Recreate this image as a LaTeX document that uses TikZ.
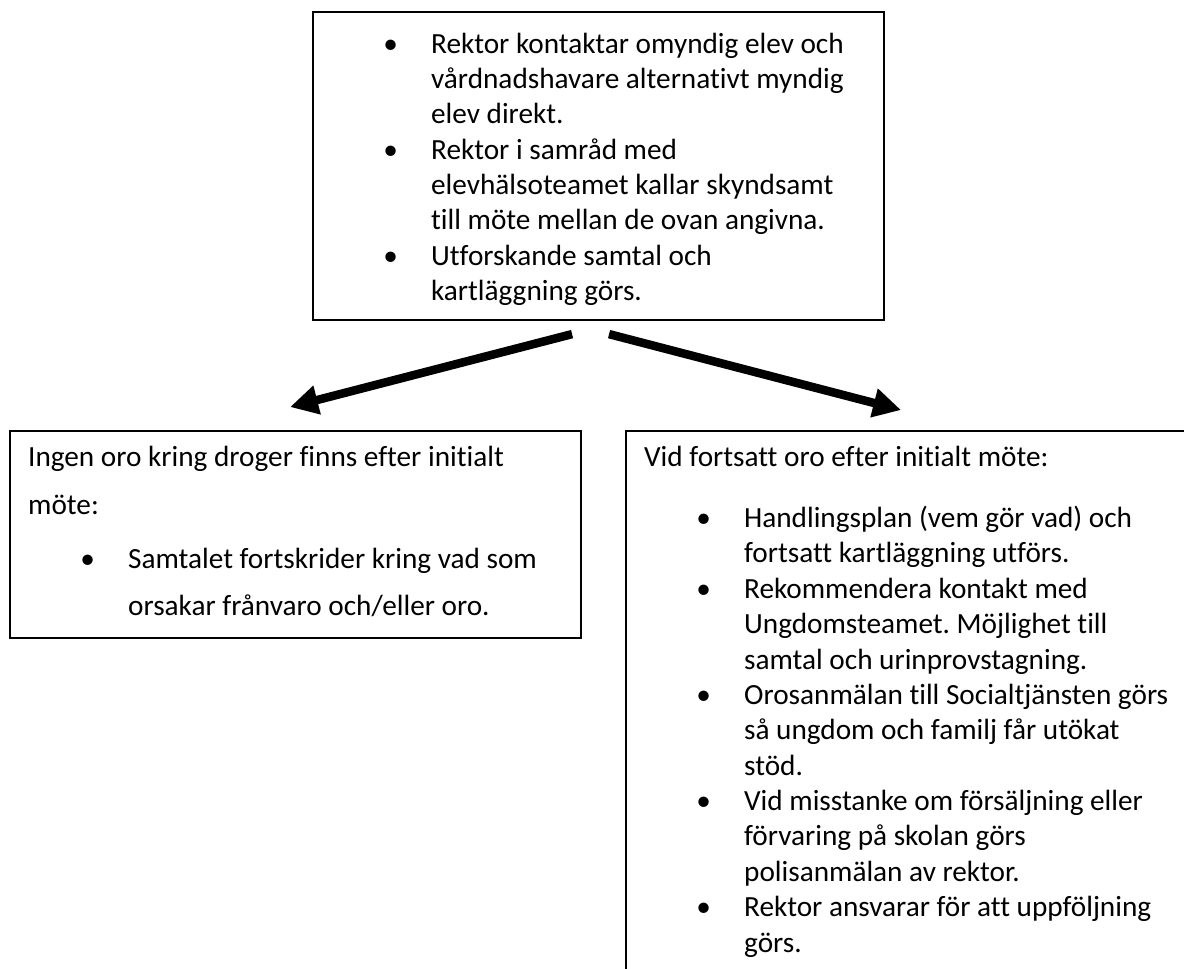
\documentclass[tikz,border=0pt]{standalone}
\usepackage{fontspec}
\setmainfont{Carlito}[Ligatures={NoCommon,NoContextual}]
\usetikzlibrary{arrows.meta}
\frenchspacing

\newcommand\bul{\hspace*{19.6pt}\makebox[18pt][l]{\textbullet}}
\newcommand\ind{\hspace*{37.6pt}}
\newcommand\boxtext[3][13.3]{\begin{minipage}[t][#2][t]{214.7pt}%
  \fontsize{11}{#1}\selectfont\setlength\parindent{0pt}\leftskip=6.8pt #3\end{minipage}}

\begin{document}
\begin{tikzpicture}[x=0.376pt,y=-0.376pt,
    box/.style={draw,line width=0.8pt,anchor=north west,inner sep=0pt},
    flow/.style={line width=3.2pt,-{Triangle[length=10.5pt,width=10.5pt]}}]
  \useasboundingbox (0,0) rectangle (1184,968);

  \node[box] (top) at (312,11) {\boxtext{115.8pt}{%
      \rule{0pt}{15.4pt}\bul Rektor kontaktar omyndig elev och\\
      \ind vårdnadshavare alternativt myndig\\
      \ind elev direkt.\\
      \bul Rektor i samråd med\\
      \ind elevhälsoteamet kallar skyndsamt\\
      \ind till möte mellan de ovan angivna.\\
      \bul Utforskande samtal och\\
      \ind kartläggning görs.}};

  \node[box] (left) at (9,430) {\boxtext[18]{77.8pt}{%
      \rule{0pt}{13.2pt}Ingen oro kring droger finns efter initialt\\
      möte:\\[2.3pt]
      \bul Samtalet fortskrider kring vad som\\
      \ind orsakar frånvaro och/eller oro.}};

  \node[box] (right) at (625,430) {\boxtext{214pt}{%
      \rule{0pt}{13.5pt}Vid fortsatt oro efter initialt möte:\\[9.5pt]
      \bul Handlingsplan (vem gör vad) och\\
      \ind fortsatt kartläggning utförs.\\
      \bul Rekommendera kontakt med\\
      \ind Ungdomsteamet. Möjlighet till\\
      \ind samtal och urinprovstagning.\\
      \bul Orosanmälan till Socialtjänsten görs\\
      \ind så ungdom och familj får utökat\\
      \ind stöd.\\
      \bul Vid misstanke om försäljning eller\\
      \ind förvaring på skolan görs\\
      \ind polisanmälan av rektor.\\
      \bul Rektor ansvarar för att uppföljning\\
      \ind görs.}};

  % arrow ends just off the boxes
  \path (top.south) ++(-26.5,13) coordinate (l0);
  \path (left.north) ++(-5.5,-23) coordinate (l1);
  \path (top.south) ++(10.5,13) coordinate (r0);
  \path (right.north) ++(-10.5,-20) coordinate (r1);

  \draw[flow] (l0) -- (l1);
  \draw[flow] (r0) -- (r1);
\end{tikzpicture}
\end{document}
